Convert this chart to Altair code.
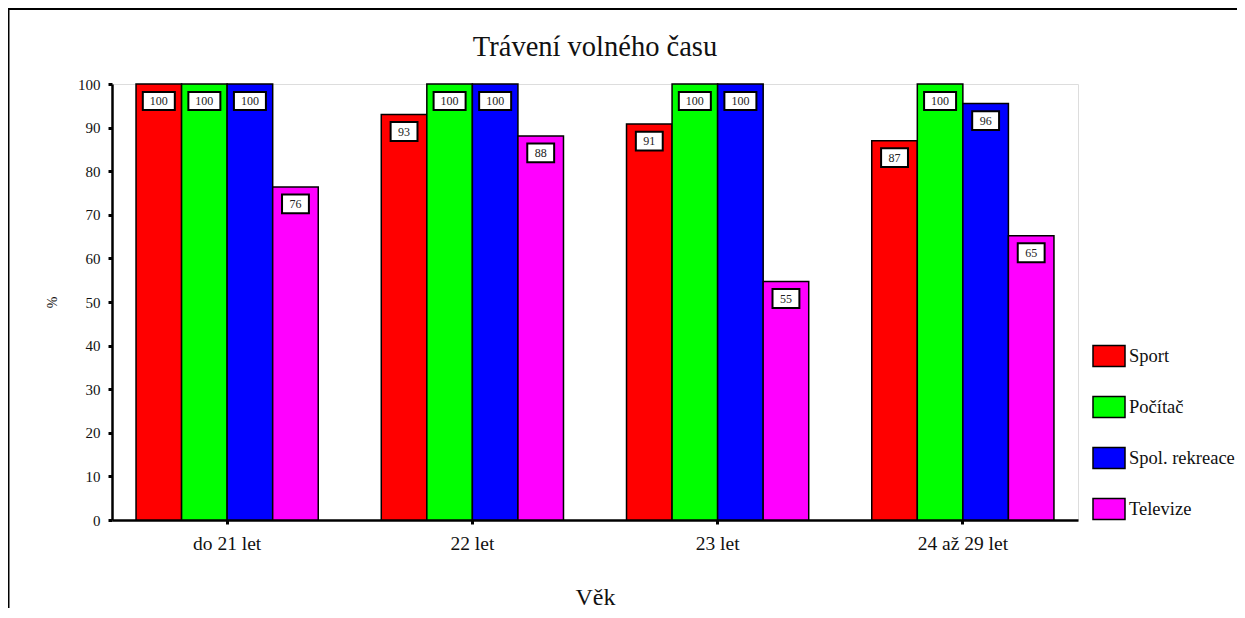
import altair as alt
import pandas as pd

title_text = ["Trávení volného času"]
categories = ["do 21 let", "22 let", "23 let", "24 až 29 let"]
series = ["Sport", "Počítač", "Spol. rekreace", "Televize"]
sport = [100, 93.0, 90.8, 87.0]
pocitac = [100, 100, 100, 100]
rekreace = [100, 100, 100, 95.5]
televize = [76.4, 88.1, 54.7, 65.2]
colors = ["#ff0000", "#00ff00", "#0000ff", "#ff00ff"]

rows = []
for s, vals in zip(series, [sport, pocitac, rekreace, televize]):
    for c, v in zip(categories, vals):
        lab = str(int(round(v)))
        rows.append({"cat": c, "series": s, "value": v, "label": lab, "digits": str(len(lab))})
df = pd.DataFrame(rows)

SERIF = "Liberation Serif"

x_enc = alt.X(
    "cat:N", sort=categories,
    scale=alt.Scale(paddingInner=0.257, paddingOuter=0.098),
    axis=alt.Axis(
        labelAngle=0, labelFont=SERIF, labelFontSize=19.5, labelColor="#111",
        labelPadding=10, tickSize=4, tickWidth=3, tickColor="black",
        domainColor="black", domainWidth=2.5,
        title="Věk", titleFont=SERIF, titleFontSize=24, titleFontWeight="normal",
        titleColor="#111", titleY=84, titleBaseline="alphabetic",
    ),
)
xoff_enc = alt.XOffset("series:N", sort=series, scale=alt.Scale(paddingInner=0, paddingOuter=0))
y_enc = alt.Y(
    "value:Q",
    scale=alt.Scale(domain=[0, 100], nice=False),
    axis=alt.Axis(
        values=list(range(0, 101, 10)), grid=False,
        labelFont=SERIF, labelFontSize=15, labelColor="#111", labelPadding=8,
        tickSize=4, tickWidth=3, tickColor="black",
        domainColor="black", domainWidth=2.5,
        title="%", titleFont=SERIF, titleFontSize=14, titleFontWeight="normal",
        titleColor="#111", titleX=-60, titleY=218, titleBaseline="middle",
    ),
)

legend_symbol = "M-1,-0.656h2v1.3125h-2Z"

base = alt.Chart(df)

bars = base.mark_bar(stroke="black", strokeWidth=1.5, opacity=1).encode(
    x=x_enc, xOffset=xoff_enc, y=y_enc,
    color=alt.Color(
        "series:N", sort=series,
        scale=alt.Scale(domain=series, range=colors),
        legend=alt.Legend(
            title=None, orient="none", legendX=980, legendY=255, padding=0,
            symbolType=legend_symbol, symbolSize=1024, symbolStrokeColor="black",
            symbolStrokeWidth=1.5, symbolOpacity=1,
            labelFont=SERIF, labelFontSize=18.5, labelColor="#111",
            labelOffset=3, rowPadding=20,
        ),
    ),
)

boxes = base.mark_point(
    filled=True, fill="white", stroke="black", strokeWidth=2, opacity=1,
    fillOpacity=1, size=1024, yOffset=17,
).encode(
    x=x_enc, xOffset=xoff_enc, y=y_enc,
    shape=alt.Shape(
        "digits:N",
        scale=alt.Scale(domain=["2", "3"],
                        range=["M-0.84,-0.59h1.68v1.18h-1.68Z", "M-1,-0.5625h2v1.125h-2Z"]),
        legend=None,
    ),
)

texts = base.mark_text(
    font=SERIF, fontSize=12, color="#222", yOffset=17, baseline="middle", align="center",
).encode(x=x_enc, xOffset=xoff_enc, y=y_enc, text="label:N")

frame = alt.Chart(pd.DataFrame({"a": [0]})).mark_rect(
    fillOpacity=0, stroke="black", strokeWidth=2
).encode(
    x=alt.value(-103.5), x2=alt.value(1300), y=alt.value(-75), y2=alt.value(700)
)

title = alt.Chart(pd.DataFrame({"t": title_text})).mark_text(
    font=SERIF, fontSize=28.5, color="#111", align="center", baseline="alphabetic",
).encode(x=alt.value(483), y=alt.value(-28), text="t:N")

chart = alt.layer(frame, bars, boxes, texts, title).properties(
    width=966, height=436,
    autosize=alt.AutoSizeParams(type="none"),
    padding={"left": 104, "top": 76, "right": 159, "bottom": 88},
).configure_view(stroke="#222", strokeWidth=1.5).configure(background="white")

chart.save("out.html", embed_options={"renderer": "svg", "actions": False})
